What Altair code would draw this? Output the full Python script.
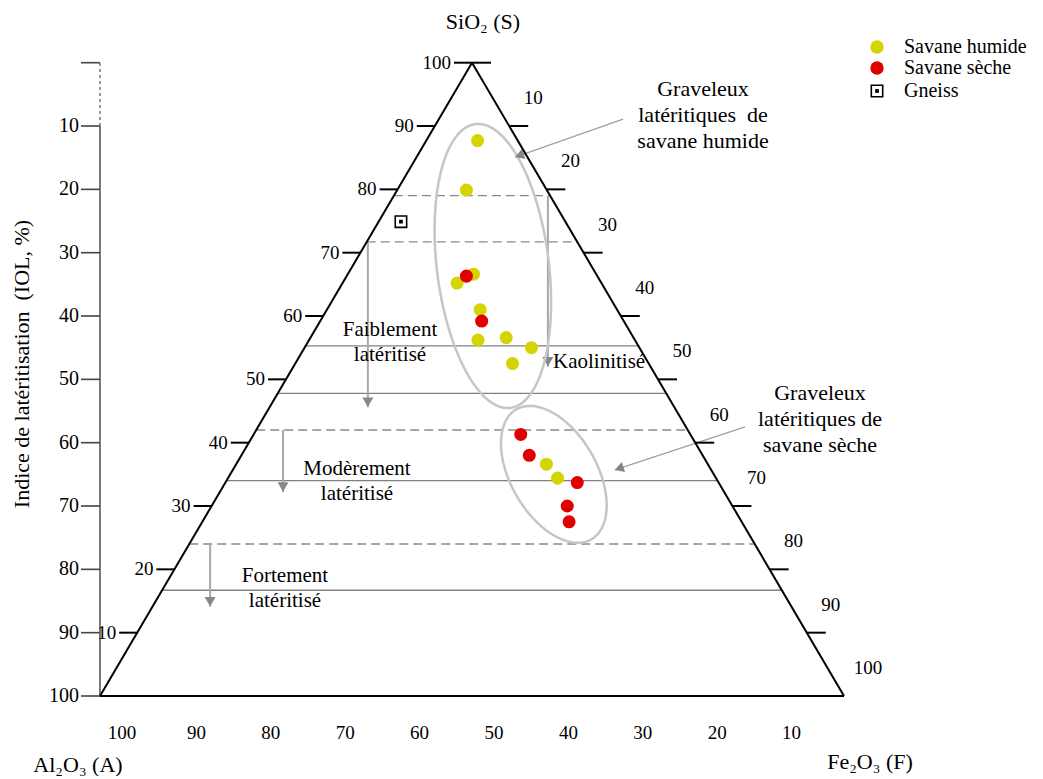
import math
import altair as alt
import pandas as pd

# ---------------- data ----------------
# Samples (SiO2, Al2O3, Fe2O3 in %)
hum_sio2 = [87.7, 79.9, 66.6, 65.2, 61.0, 56.2, 56.6, 55.0, 52.5, 36.6, 34.4]
hum_al2o3 = [5.4, 10.8, 16.5, 19.4, 18.4, 21.1, 17.1, 14.5, 18.3, 21.7, 21.3]
hum_fe2o3 = [6.9, 9.3, 16.9, 15.4, 20.6, 22.7, 26.3, 30.5, 29.2, 41.7, 44.3]

sec_sio2 = [66.3, 59.2, 41.3, 38.0, 33.7, 30.0, 27.5]
sec_al2o3 = [17.6, 19.1, 22.8, 23.3, 19.0, 22.2, 23.2]
sec_fe2o3 = [16.1, 21.7, 35.9, 38.7, 47.3, 47.8, 49.3]

gn_sio2 = [74.9]
gn_al2o3 = [22.1]
gn_fe2o3 = [3.0]

categories = ["Savane humide", "Savane sèche", "Gneiss"]
cat_colors = ["#d4d400", "#e00000", "#000000"]

tick_vals = [10, 20, 30, 40, 50, 60, 70, 80, 90, 100]
iol_tick_vals = [0, 10, 20, 30, 40, 50, 60, 70, 80, 90, 100]

# lateritisation limits (IOL, %)
iol_levels = [21.0, 28.3, 44.7, 52.2, 58.0, 66.0, 76.0, 83.3]
iol_dashed = [True, True, False, False, True, False, True, False]

# vertical arrows: position along the base (%) and IOL from / to
arrow_pos = [60.2, 36.0, 24.6, 14.8]
arrow_iol_from = [21.0, 28.3, 58.0, 76.0]
arrow_iol_to = [48.0, 54.4, 67.8, 85.9]

# group ellipses: centre (base %, SiO2 %), semi-axes (px), tilt (deg)
ell_cx = [52.8, 61.0]
ell_cs = [67.9, 35.0]
ell_a = [143, 75]
ell_b = [56, 43]
ell_tilt = [7, 30]

# call-out arrows (base %, SiO2 %)
call_from_x = [70.3, 86.7]
call_from_s = [91.1, 42.5]
call_to_x = [55.8, 69.2]
call_to_s = [85.1, 35.7]

# ---------------- layout ----------------
W, H = 1027, 768
KX, KY = 7.44, 6.333          # px per unit
OX, OY = 92.0, 688.0          # svg px of base-left corner
SERIF = "Liberation Serif"

xs = alt.Scale(domain=[-OX / KX, (W - OX) / KX], nice=False, zero=False)
ys = alt.Scale(domain=[(OY - H) / KY, OY / KY], nice=False, zero=False)


def ex(f="x"):
    return alt.X(f"{f}:Q", scale=xs, axis=None)


def ey(f="y"):
    return alt.Y(f"{f}:Q", scale=ys, axis=None)


def tern(s, a, f):
    t = s + a + f
    s2, f2 = 100 * s / t, 100 * f / t
    return f2 + s2 / 2, s2


def samples(S, A, F):
    pts = [tern(s, a, f) for s, a, f in zip(S, A, F)]
    return pd.DataFrame({"x": [p[0] for p in pts], "y": [p[1] for p in pts]})


# triangle
corners = {"A": tern(0, 100, 0), "F": tern(0, 0, 100), "S": tern(100, 0, 0)}
segs = [("A", "F"), ("A", "S"), ("F", "S")]
tri_df = pd.DataFrame({
    "x": [corners[a][0] for a, b in segs], "y": [corners[a][1] for a, b in segs],
    "x2": [corners[b][0] for a, b in segs], "y2": [corners[b][1] for a, b in segs],
})
triangle = alt.Chart(tri_df).mark_rule(color="black", strokeWidth=2).encode(
    x=ex(), y=ey(), x2="x2:Q", y2="y2:Q")

# ticks on triangle edges
left_t = pd.DataFrame({"v": tick_vals})
left_t["x"] = [tern(v, 100 - v, 0)[0] for v in tick_vals]
left_t["y"] = [tern(v, 100 - v, 0)[1] for v in tick_vals]
left_ticks = alt.Chart(left_t).mark_rule(color="black", strokeWidth=2, x2Offset=-18).encode(
    x=ex(), x2="x:Q", y=ey())
left_lab = alt.Chart(left_t).mark_text(font=SERIF, fontSize=19, align="right", baseline="middle",
                                       dx=-21, color="black").encode(x=ex(), y=ey(), text="v:Q")

right_vals = [0] + tick_vals[:-1]
right_t = pd.DataFrame({"v": right_vals})
right_t["x"] = [tern(100 - v, 0, v)[0] for v in right_vals]
right_t["y"] = [tern(100 - v, 0, v)[1] for v in right_vals]
right_ticks = alt.Chart(right_t).mark_rule(color="black", strokeWidth=2, x2Offset=19).encode(
    x=ex(), x2="x:Q", y=ey())

rlab_t = pd.DataFrame({"v": tick_vals})
rlab_t["x"] = [tern(100 - v, 0, v)[0] for v in tick_vals]
rlab_t["y"] = [tern(100 - v, 0, v)[1] for v in tick_vals]
right_lab = alt.Chart(rlab_t).mark_text(font=SERIF, fontSize=19, align="center", baseline="middle",
                                        dx=24, dy=-28, color="black").encode(x=ex(), y=ey(), text="v:Q")

blab_t = pd.DataFrame({"v": tick_vals})
blab_t["x"] = [tern(0, v, 100 - v)[0] for v in tick_vals]
blab_t["y"] = [0.0 for v in tick_vals]
bottom_lab = alt.Chart(blab_t).mark_text(font=SERIF, fontSize=19, align="center", baseline="middle",
                                         dx=22, dy=37, color="black").encode(x=ex(), y=ey(), text="v:Q")

# IOL axis
iol_axis_solid = alt.Chart(pd.DataFrame({"x": [0.0], "y": [100 - 100.0], "y2": [100 - 10.0]})).mark_rule(
    color="#7a7a7a", strokeWidth=2).encode(x=ex(), y=ey(), y2="y2:Q")
iol_axis_dash = alt.Chart(pd.DataFrame({"x": [0.0], "y": [100 - 10.0], "y2": [100 - 0.0]})).mark_rule(
    color="#7a7a7a", strokeWidth=1.5, strokeDash=[3, 3]).encode(x=ex(), y=ey(), y2="y2:Q")
iol_t = pd.DataFrame({"v": iol_tick_vals})
iol_t["x"] = 0.0
iol_t["y"] = [100 - v for v in iol_tick_vals]
iol_ticks = alt.Chart(iol_t).mark_rule(color="#444444", strokeWidth=1.6, x2Offset=-19).encode(
    x=ex(), x2="x:Q", y=ey())
iol_lab = alt.Chart(iol_t[iol_t["v"] > 0]).mark_text(font=SERIF, fontSize=20, align="right",
                                                    baseline="middle", dx=-21, color="black").encode(
    x=ex(), y=ey(), text="v:Q")

# classification lines
lv = pd.DataFrame({"iol": iol_levels, "dashed": iol_dashed})
lv["y"] = [100 - v for v in iol_levels]
lv["x"] = [s / 2 for s in lv["y"]]
lv["x2"] = [100 - s / 2 for s in lv["y"]]
solid_lines = alt.Chart(lv[~lv["dashed"]]).mark_rule(color="#808080", strokeWidth=1.3).encode(
    x=ex(), x2="x2:Q", y=ey())
dashed_lines = alt.Chart(lv[lv["dashed"]]).mark_rule(color="#8a8a8a", strokeWidth=1.3,
                                                     strokeDash=[9, 5]).encode(x=ex(), x2="x2:Q", y=ey())

# vertical arrows
ar = pd.DataFrame({"x": arrow_pos, "y": [100 - v for v in arrow_iol_from],
                   "y2": [100 - v for v in arrow_iol_to]})
arrow_lines = alt.Chart(ar).mark_rule(color="#a8a8a8", strokeWidth=2).encode(x=ex(), y=ey(), y2="y2:Q")
arrow_heads = alt.Chart(ar).mark_point(shape="triangle-down", filled=True, size=120, color="#888888",
                                       opacity=1, yOffset=-5).encode(x=ex(), y=ey("y2"))

# ellipses
rows = []
for k in range(len(ell_cx)):
    cxp = OX + ell_cx[k] * KX
    cyp = OY - ell_cs[k] * KY
    th = math.radians(ell_tilt[k])
    ux, uy = -math.sin(th), -math.cos(th)
    vx, vy = math.cos(th), -math.sin(th)
    n = 160
    for i in range(n + 1):
        t = 2 * math.pi * i / n
        px = cxp + ell_a[k] * math.cos(t) * ux + ell_b[k] * math.sin(t) * vx
        py = cyp + ell_a[k] * math.cos(t) * uy + ell_b[k] * math.sin(t) * vy
        rows.append({"id": k, "i": i, "x": (px - OX) / KX, "y": (OY - py) / KY})
ellipses = alt.Chart(pd.DataFrame(rows)).mark_line(color="#c6c6c6", strokeWidth=2.5).encode(
    x=ex(), y=ey(), detail="id:N", order="i:Q")

# call-out arrows
co = pd.DataFrame({"x": call_from_x, "y": call_from_s, "x2": call_to_x, "y2": call_to_s})
hx, hy, ang = [], [], []
for x1, s1, x2, s2 in zip(call_from_x, call_from_s, call_to_x, call_to_s):
    p1 = (OX + x1 * KX, OY - s1 * KY)
    p2 = (OX + x2 * KX, OY - s2 * KY)
    dx, dy = p2[0] - p1[0], p2[1] - p1[1]
    L = math.hypot(dx, dy)
    cx, cy = p2[0] - 6 * dx / L, p2[1] - 6 * dy / L
    hx.append((cx - OX) / KX)
    hy.append((OY - cy) / KY)
    ang.append(math.degrees(math.atan2(dx, -dy)) % 360)
co_heads = pd.DataFrame({"x": hx, "y": hy, "ang": ang})
call_lines = alt.Chart(co).mark_rule(color="#a0a0a0", strokeWidth=1.3).encode(
    x=ex(), y=ey(), x2="x2:Q", y2="y2:Q")
call_heads = alt.Chart(co_heads).mark_point(shape="triangle", filled=True, size=110, color="#858585",
                                            opacity=1).encode(
    x=ex(), y=ey(), angle=alt.Angle("ang:Q", scale=None))

# sample points
hum = alt.Chart(samples(hum_sio2, hum_al2o3, hum_fe2o3)).mark_circle(
    size=170, color=cat_colors[0], opacity=1).encode(x=ex(), y=ey())
sec = alt.Chart(samples(sec_sio2, sec_al2o3, sec_fe2o3)).mark_circle(
    size=170, color=cat_colors[1], opacity=1).encode(x=ex(), y=ey())
gn_df = samples(gn_sio2, gn_al2o3, gn_fe2o3)
gn_box = alt.Chart(gn_df).mark_square(size=130, fill="white", stroke="black", strokeWidth=1.6,
                                      opacity=1).encode(x=ex(), y=ey())
gn_dot = alt.Chart(gn_df).mark_square(size=14, color="black", opacity=1).encode(x=ex(), y=ey())

# legend
leg = pd.DataFrame({"label": categories, "px": [869] * 3, "py": [39, 60, 83]})
leg_circ = alt.Chart(leg.iloc[:2]).mark_circle(size=180, opacity=1).encode(
    x=alt.X("px:Q", scale=None, axis=None), y=alt.Y("py:Q", scale=None, axis=None),
    color=alt.Color("label:N", scale=alt.Scale(domain=categories[:2], range=cat_colors[:2]), legend=None))
leg_box = alt.Chart(leg.iloc[2:]).mark_square(size=130, fill="white", stroke="black", strokeWidth=1.6,
                                             opacity=1).encode(
    x=alt.X("px:Q", scale=None, axis=None), y=alt.Y("py:Q", scale=None, axis=None))
leg_dot = alt.Chart(leg.iloc[2:]).mark_square(size=14, color="black", opacity=1).encode(
    x=alt.X("px:Q", scale=None, axis=None), y=alt.Y("py:Q", scale=None, axis=None))
leg_txt = alt.Chart(leg).mark_text(font=SERIF, fontSize=20, align="left",
                                   baseline="middle", dx=27, color="black").encode(
    x=alt.X("px:Q", scale=None, axis=None), y=alt.Y("py:Q", scale=None, axis=None), text="label:N")

# text annotations (svg px)
ann = pd.DataFrame({
    "t": ["SiO\u2082 (S)", "Al\u2082O\u2083 (A)", "Fe\u2082O\u2083 (F)"],
    "px": [475, 70, 862], "py": [14, 757, 754]})
titles = alt.Chart(ann).mark_text(font=SERIF, fontSize=22, align="center", baseline="middle",
                                  color="black").encode(
    x=alt.X("px:Q", scale=None, axis=None), y=alt.Y("py:Q", scale=None, axis=None), text="t:N")
iol_title = alt.Chart(pd.DataFrame({"t": ["Indice de latéritisation \u00a0(IOL, %)"]})).mark_text(
    font=SERIF, fontSize=22, angle=270, align="center", baseline="middle", color="black").encode(
    x=alt.value(14), y=alt.value(356), text="t:N")

zones = pd.DataFrame({
    "t": ["Faiblement\nlatéritisé", "Modèrement\nlatéritisé", "Fortement\nlatéritisé"],
    "px": [382, 349, 277], "py": [322, 461, 568]})
zone_txt = alt.Chart(zones).mark_text(font=SERIF, fontSize=21, align="center", baseline="middle",
                                      lineBreak="\n", lineHeight=25, color="black").encode(
    x=alt.X("px:Q", scale=None, axis=None), y=alt.Y("py:Q", scale=None, axis=None), text="t:N")
kaol = alt.Chart(pd.DataFrame({"t": ["Kaolinitisé"]})).mark_text(
    font=SERIF, fontSize=21, align="left", baseline="middle", color="black").encode(
    x=alt.value(545), y=alt.value(354), text="t:N")
grav = pd.DataFrame({
    "t": ["Graveleux\nlatéritiques \u00a0de\nsavane humide", "Graveleux\nlatéritiques de\nsavane sèche"],
    "px": [695, 812], "py": [81, 385]})
grav_txt = alt.Chart(grav).mark_text(font=SERIF, fontSize=22, align="center", baseline="middle",
                                     lineBreak="\n", lineHeight=26, color="black").encode(
    x=alt.X("px:Q", scale=None, axis=None), y=alt.Y("py:Q", scale=None, axis=None), text="t:N")

chart = alt.layer(
    solid_lines, dashed_lines, arrow_lines, arrow_heads, ellipses, call_lines, call_heads,
    iol_axis_solid, iol_axis_dash, iol_ticks, iol_lab,
    triangle, left_ticks, right_ticks, left_lab, right_lab, bottom_lab,
    hum, sec, gn_box, gn_dot,
    leg_circ, leg_box, leg_dot, leg_txt,
    titles, iol_title, zone_txt, kaol, grav_txt,
).resolve_scale(x="independent", y="independent").properties(
    width=W, height=H, autosize=alt.AutoSizeParams(type="none"), padding=0,
    background="white",
).configure_view(strokeWidth=0)

chart.save("out.html", embed_options={"renderer": "svg", "actions": False})
